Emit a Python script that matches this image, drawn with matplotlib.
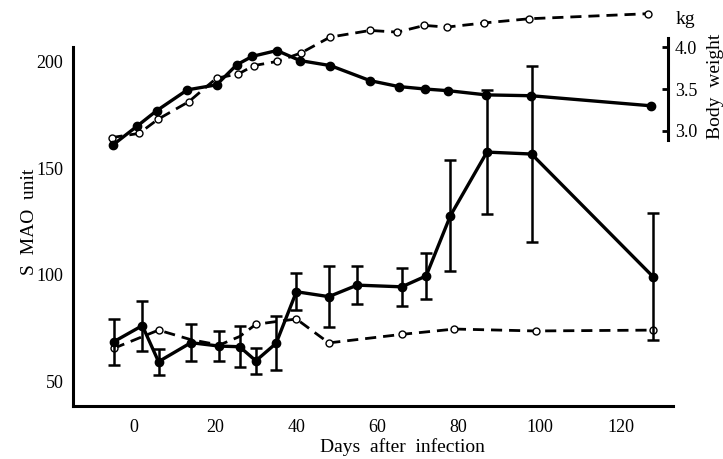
import matplotlib
matplotlib.use("Agg")
import matplotlib.pyplot as plt

plt.rcParams['font.family'] = ['Liberation Serif', 'DejaVu Serif']

# --- S MAO (infected, mean +/- SE) ---
mao_days = [-5, 2, 6, 14, 21, 26, 30, 35, 40, 48, 55, 66, 72, 78, 87, 98, 128]
mao_inf = [68.6, 76.1, 59.2, 68.1, 66.5, 66.2, 59.6, 67.8, 92.0, 89.7, 95.1, 94.3, 99.4, 127.7, 157.5, 156.6, 99.0]
mao_err = [10.8, 11.7, 6.1, 8.7, 7.2, 9.6, 6.0, 12.7, 8.8, 14.3, 9.0, 9.0, 10.6, 25.9, 29.1, 41.3, 29.8]

# --- S MAO (control) ---
ctrl_days = [-5, 6, 14, 21, 26, 30, 35, 40, 48, 66, 79, 99, 128]
mao_ctrl = [65.5, 74.0, 69.5, 67.0, 71.0, 76.7, 78.0, 79.2, 68.0, 72.0, 74.5, 73.6, 74.0]

# --- Body weight (kg) ---
bw_days_inf = [-5.3, 0.8, 5.5, 13.1, 20.3, 25.3, 29.1, 35.2, 40.9, 48.4, 58.2, 65.2, 71.8, 77.5, 86.8, 97.9, 127.4]
bw_inf = [2.83, 3.06, 3.24, 3.49, 3.55, 3.79, 3.89, 3.96, 3.84, 3.78, 3.60, 3.53, 3.50, 3.48, 3.43, 3.42, 3.30]
bw_days_ctrl = [-5.6, 1.2, 5.9, 13.5, 20.3, 25.7, 29.5, 35.3, 41.1, 48.3, 58.2, 64.9, 71.6, 77.1, 86.4, 97.5, 126.7]
bw_ctrl = [2.92, 2.97, 3.14, 3.35, 3.63, 3.68, 3.78, 3.83, 3.93, 4.12, 4.20, 4.18, 4.26, 4.24, 4.29, 4.34, 4.40]

x_ticks = [0, 20, 40, 60, 80, 100, 120]
y_ticks = [50, 100, 150, 200]
bw_ticks = [3.0, 3.5, 4.0]

W, H = 723, 459
fig = plt.figure(figsize=(W / 100, H / 100), dpi=100)
ax = fig.add_axes([73 / W, 1 - 406 / H, 600 / W, 401 / H])
ax.set_xlim(-15.1, 132.9)
ax.set_ylim(38.4, 226.5)

dash = (0, (4, 2.5))
# control MAO (dashed, open circles; circles hidden under the infected curve are not drawn)
ctrl_visible = [0, 1, 5, 7, 8, 9, 10, 11, 12]
ax.plot(ctrl_days, mao_ctrl, color='black', lw=2.0, linestyle=dash,
        marker='o', markersize=5, markerfacecolor='white', markeredgecolor='black',
        markeredgewidth=1.0, markevery=ctrl_visible, zorder=2)
# infected MAO
ax.errorbar(mao_days, mao_inf, yerr=mao_err, color='black', lw=2.4,
            marker='o', markersize=6, elinewidth=1.8, capsize=4, capthick=1.8, zorder=3)

for s in ['top', 'right']:
    ax.spines[s].set_visible(False)
ax.spines['left'].set_linewidth(2.2)
ax.spines['bottom'].set_linewidth(2.2)
ax.spines['left'].set_bounds(38.4, 206.8)
ax.set_xticks(x_ticks)
ax.set_yticks(y_ticks)
ax.tick_params(axis='x', length=0, pad=9, labelsize=13)
ax.tick_params(axis='y', length=0, pad=7, labelsize=13)

# body weight axis
ax2 = ax.twinx()
ax2.set_ylim(-0.287, 4.504)
ax2.plot(bw_days_ctrl, bw_ctrl, color='black', lw=2.0, linestyle=dash,
         marker='o', markersize=5, markerfacecolor='white', markeredgecolor='black',
         markeredgewidth=1.0, zorder=2)
ax2.plot(bw_days_inf, bw_inf, color='black', lw=2.4, marker='o', markersize=6, zorder=3)
for s in ['top', 'left', 'bottom']:
    ax2.spines[s].set_visible(False)
ax2.spines['right'].set_position(('axes', 0.9917))
ax2.spines['right'].set_bounds(2.89, 4.11)
ax2.spines['right'].set_linewidth(2.2)
ax2.set_yticks(bw_ticks)
ax2.set_yticklabels(['3.0', '3.5', '4.0'])
ax2.tick_params(axis='y', direction='in', length=4, width=2, pad=5, labelsize=13)

fig.text(30 / W, 1 - 222 / H, 'S  MAO  unit', rotation=90, ha='center', va='center', fontsize=14)
fig.text(402 / W, 1 - 447 / H, 'Days  after  infection', ha='center', va='center', fontsize=14)
fig.text(685 / W, 1 - 19 / H, 'kg', ha='center', va='center', fontsize=14)
fig.text(715 / W, 1 - 86 / H, 'Body  weight', rotation=90, ha='center', va='center', fontsize=14)

fig.savefig('out.png', dpi=100)
